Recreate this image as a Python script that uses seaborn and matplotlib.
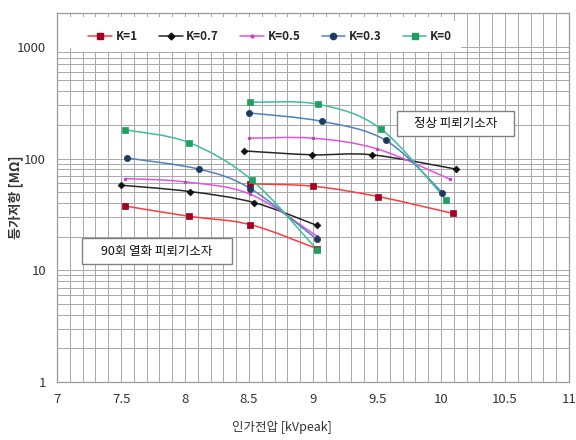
import matplotlib
matplotlib.use("Agg")
import numpy as np
import matplotlib.pyplot as plt
import seaborn as sns
import pandas as pd
from matplotlib.lines import Line2D
from matplotlib.patches import Rectangle, PathPatch
from matplotlib.path import Path
from matplotlib.ticker import FixedLocator, MultipleLocator, FuncFormatter, NullFormatter

# ---------------- data ----------------
k_labels = ["K=1", "K=0.7", "K=0.5", "K=0.3", "K=0"]

# 90회 열화 피뢰기소자 (degraded)
deg_voltage = [
    [7.53, 8.03, 8.51, 9.03],
    [7.50, 8.04, 8.54, 9.03],
    [7.53, 8.00, 8.51, 9.03],
    [7.55, 8.11, 8.51, 9.03],
    [7.53, 8.03, 8.52, 9.03],
]
deg_resistance = [
    [37.6, 30.4, 25.6, 15.6],
    [57.7, 50.6, 40.3, 25.2],
    [66.2, 61.8, 47.9, 20.2],
    [100.9, 80.3, 53.9, 18.9],
    [181.0, 139.0, 64.4, 15.3],
]

# 정상 피뢰기소자 (normal)
norm_voltage = [
    [8.51, 9.00, 9.51, 10.09],
    [8.46, 8.99, 9.46, 10.12],
    [8.50, 9.00, 9.50, 10.07],
    [8.50, 9.07, 9.57, 10.01],
    [8.51, 9.04, 9.53, 10.04],
]
norm_resistance = [
    [59.3, 56.5, 45.6, 32.3],
    [117.0, 108.0, 108.0, 80.3],
    [152.0, 152.0, 122.0, 65.3],
    [256.0, 215.0, 145.0, 49.6],
    [319.0, 306.0, 184.0, 42.6],
]

x_ticks = [7, 7.5, 8, 8.5, 9, 9.5, 10, 10.5, 11]
y_ticks = [1, 10, 100, 1000]

# ---------------- style ----------------
line_colors = ["#ff3b3b", "#262626", "#e055e0", "#4f81bd", "#3cbf9e"]
marker_colors = ["#a50021", "#111111", "#c040c0", "#1f3a60", "#1fa060"]
marker_shapes = ["s", "D", "o", "o", "s"]
marker_sizes = [15, 12, 4, 20, 15]

sns.set_style("white")
plt.rcParams["font.family"] = ["Noto Sans CJK KR", "DejaVu Sans"]
plt.rcParams["axes.unicode_minus"] = False

fig = plt.figure(figsize=(5.76, 4.4), dpi=100)
ax = fig.add_axes([0.099, 0.132, 0.889, 0.838])

rows = []
for i, k in enumerate(k_labels):
    for grp, xs, ys in (("deg", deg_voltage[i], deg_resistance[i]),
                        ("norm", norm_voltage[i], norm_resistance[i])):
        for x, y in zip(xs, ys):
            rows.append({"K": k, "group": grp, "voltage": x, "resistance": y})
df = pd.DataFrame(rows)


def smooth_path(xs, ys):
    """Excel-style smoothed line: cubic Bezier segments built in (x, log y) space."""
    px = np.asarray(xs, float)
    py = np.log10(np.asarray(ys, float))
    n = len(px)
    verts = [(px[0], py[0])]
    codes = [Path.MOVETO]
    for j in range(n - 1):
        a = max(j - 1, 0)
        b = min(j + 2, n - 1)
        c1 = (px[j] + (px[j + 1] - px[a]) / 6, py[j] + (py[j + 1] - py[a]) / 6)
        c2 = (px[j + 1] - (px[b] - px[j]) / 6, py[j + 1] - (py[b] - py[j]) / 6)
        verts += [c1, c2, (px[j + 1], py[j + 1])]
        codes += [Path.CURVE4] * 3
    verts = np.array(verts)
    verts[:, 1] = 10 ** verts[:, 1]
    return Path(verts, codes)


ax.set_yscale("log")
for i, k in enumerate(k_labels):
    for grp in ("deg", "norm"):
        sub = df[(df["K"] == k) & (df["group"] == grp)]
        ax.add_patch(PathPatch(smooth_path(sub["voltage"], sub["resistance"]),
                               facecolor="none", edgecolor=line_colors[i],
                               linewidth=1.1, zorder=2))
    subk = df[df["K"] == k]
    sns.scatterplot(data=subk, x="voltage", y="resistance", marker=marker_shapes[i],
                    color=marker_colors[i], s=marker_sizes[i], edgecolor=marker_colors[i],
                    linewidth=0.5, ax=ax, legend=False, zorder=3)

ax.set_xlim(7, 11)
ax.set_ylim(1, 2000)

ax.xaxis.set_major_locator(FixedLocator(x_ticks))
ax.xaxis.set_minor_locator(MultipleLocator(0.1))
ax.xaxis.set_major_formatter(FuncFormatter(lambda v, p: f"{v:g}"))
ax.yaxis.set_major_locator(FixedLocator(y_ticks))
ax.yaxis.set_minor_locator(FixedLocator([m * 10 ** e for e in range(3) for m in range(2, 10)]))
ax.yaxis.set_major_formatter(FuncFormatter(lambda v, p: f"{v:g}"))
ax.yaxis.set_minor_formatter(NullFormatter())

ax.grid(which="both", color="#a8a8a8", linewidth=0.7)
ax.set_axisbelow(True)
for sp in ax.spines.values():
    sp.set_color("#9a9a9a")
    sp.set_linewidth(0.9)
ax.tick_params(which="both", length=0, labelsize=9.5, labelcolor="#333333", pad=8)

ax.set_xlabel("인가전압 [kVpeak]", fontsize=9, color="#333333")
ax.xaxis.set_label_coords(0.44, -0.105)
ax.set_ylabel("등가저항 [MΩ]", fontsize=9.5, fontweight="bold", color="#333333")
ax.yaxis.set_label_coords(-0.066, 0.5)

# annotation boxes
for (x0, y0, w, h, tx, ty, txt) in (
        (0.049, 0.321, 0.293, 0.068, 0.195, 0.355, "90회 열화 피뢰기소자"),
        (0.664, 0.666, 0.228, 0.0697, 0.778, 0.701, "정상 피뢰기소자")):
    ax.add_patch(Rectangle((x0, y0), w, h, transform=ax.transAxes, facecolor="white",
                           edgecolor="#808080", linewidth=1.0, zorder=4))
    ax.text(tx, ty, txt, transform=ax.transAxes, ha="center", va="center",
            fontsize=9, fontweight="medium", color="#111111", zorder=5)

# white legend area (covers the grid like the original chart's legend box)
ax.add_patch(Rectangle((0.002, 0.905), 0.757, 0.085, transform=ax.transAxes,
                       facecolor="white", edgecolor="none", zorder=1.5))

handles = [Line2D([], [], color=line_colors[i], marker=marker_shapes[i],
                  markerfacecolor=marker_colors[i], markeredgecolor=marker_colors[i],
                  markersize=(marker_sizes[i] ** 0.5), linewidth=1.1)
           for i in range(len(k_labels))]
leg = ax.legend(handles, k_labels, ncol=5, loc="upper left", bbox_to_anchor=(0.043, 0.98),
                borderaxespad=0, frameon=True, facecolor="white", edgecolor="none",
                framealpha=1, fancybox=False, handlelength=2.0, handletextpad=0.3,
                columnspacing=1.8, borderpad=0.8, prop={"size": 8.5, "weight": "bold"})
leg.set_zorder(6)

fig.savefig("out.png", dpi=100)
